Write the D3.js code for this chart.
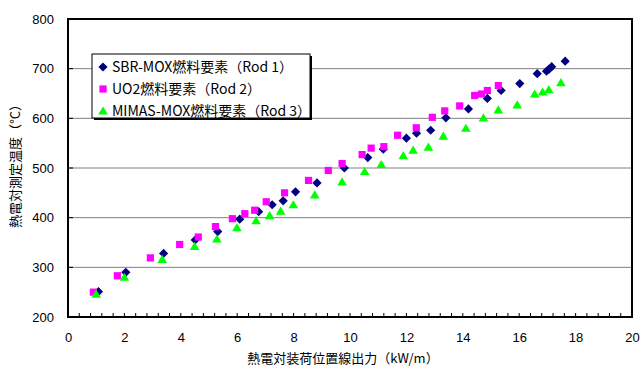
<!DOCTYPE html>
<html>
<head>
<meta charset="utf-8">
<script src="https://cdn.jsdelivr.net/npm/d3@7"></script>
<style>
  body { margin: 0; background: #fff; }
  svg { display: block; }
</style>
</head>
<body>
<div id="chart"></div>
<script>
// series names
var seriesNames = ["SBR-MOX燃料要素（Rod 1）", "UO2燃料要素（Rod 2）", "MIMAS-MOX燃料要素（Rod 3）"];

// Rod 1 : [linear power kW/m, temperature C]
var rod1 = [[1.08,251],[2.05,290],[3.39,328],[4.51,355],[5.31,372],[6.09,397],[6.76,412],[7.24,426],
  [7.63,434],[8.07,452],[8.83,470],[9.8,500],[10.63,521],[11.18,538],[12.0,560],[12.36,570],
  [12.86,576],[13.4,601],[14.2,619],[14.87,640],[15.36,656],[16.02,670],[16.64,690],[16.97,695],
  [17.06,699],[17.15,704],[17.63,715]];

// Rod 2
var rod2 = [[0.9,250],[1.75,283],[2.92,319],[3.96,346],[4.62,361],[5.23,382],[5.83,398],[6.27,408],
  [6.62,415],[7.03,432],[7.68,450],[8.53,475],[9.23,495],[9.72,509],[10.43,527],[10.75,540],
  [11.2,543],[11.69,566],[12.35,581],[12.92,602],[13.36,615],[13.89,625],[14.42,646],[14.66,649],
  [14.87,656],[15.26,666]];

// Rod 3
var rod3 = [[1.0,246],[2.0,280],[3.34,316],[4.49,342],[5.28,357],[5.99,380],[6.67,394],[7.15,404],
  [7.54,413],[7.99,426],[8.75,446],[9.72,472],[10.52,493],[11.11,507],[11.89,525],[12.24,536],
  [12.78,542],[13.31,564],[14.11,580],[14.73,601],[15.26,617],[15.93,627],[16.55,649],[16.83,653],
  [17.05,658],[17.48,672]];

var xTicks = [0, 2, 4, 6, 8, 10, 12, 14, 16, 18, 20];
var yTicks = [200, 300, 400, 500, 600, 700, 800];

var W = 640, H = 369;
var margin = { top: 19, right: 8, bottom: 52, left: 68 },
    width = W - margin.left - margin.right,
    height = H - margin.top - margin.bottom;

var svg = d3.select("#chart")
    .append("svg")
    .attr("width", W)
    .attr("height", H);

var g = svg.append("g")
    .attr("transform", "translate(" + margin.left + "," + margin.top + ")");

var x = d3.scaleLinear().domain([0, 20]).range([0, width]);
var y = d3.scaleLinear().domain([200, 800]).range([height, 0]);

// gridlines
g.append("g")
    .selectAll("line")
    .data(yTicks.slice(1, -1))
    .enter()
    .append("line")
    .attr("x1", 0)
    .attr("x2", width)
    .attr("y1", d => y(d))
    .attr("y2", d => y(d))
    .attr("stroke", "#808080")
    .attr("stroke-width", 1);

// minor x ticks every 0.4 (inside)
var minor = d3.range(0, 50).map(i => i * 0.4);
g.append("g")
    .selectAll("line")
    .data(minor)
    .enter()
    .append("line")
    .attr("x1", d => x(d))
    .attr("x2", d => x(d))
    .attr("y1", height)
    .attr("y2", height - 4)
    .attr("stroke", "#000");

// y ticks (inside)
g.append("g")
    .selectAll("line")
    .data(yTicks)
    .enter()
    .append("line")
    .attr("x1", 0)
    .attr("x2", 5)
    .attr("y1", d => y(d))
    .attr("y2", d => y(d))
    .attr("stroke", "#000");

// frame
g.append("rect")
    .attr("x", 0)
    .attr("y", 0)
    .attr("width", width)
    .attr("height", height)
    .attr("fill", "none")
    .attr("stroke", "#000")
    .attr("stroke-width", 2);

// axis labels via d3 axes (lines hidden)
var xAxis = g.append("g")
    .attr("transform", "translate(0," + height + ")")
    .call(d3.axisBottom(x).tickValues(xTicks).tickSize(0).tickPadding(16));
var yAxis = g.append("g")
    .call(d3.axisLeft(y).tickValues(yTicks).tickSize(0).tickPadding(14));
[xAxis, yAxis].forEach(a => {
    a.select(".domain").remove();
    a.selectAll("text")
        .attr("font-family", "'Liberation Sans', Arial, sans-serif")
        .attr("font-size", 13)
        .attr("fill", "#000");
});

// marker shapes
var markers = [
    "M0,-4.6L4.6,0L0,4.6L-4.6,0Z",   // diamond
    "M-3.6,-3.6H3.6V3.6H-3.6Z",      // square
    "M0,-4.6L4.8,3.6H-4.8Z"          // triangle
];
var colors = ["#000080", "#ff00ff", "#00ff00"];
var data = [rod1, rod2, rod3];

data.forEach((s, i) => {
    g.append("g")
        .selectAll("path")
        .data(s)
        .enter()
        .append("path")
        .attr("d", markers[i])
        .attr("transform", d => "translate(" + x(d[0]) + "," + y(d[1]) + ")")
        .attr("fill", colors[i]);
});

// legend
var lg = svg.append("g").attr("transform", "translate(92,54)");
lg.append("rect")
    .attr("x", 2).attr("y", 2)
    .attr("width", 218).attr("height", 64)
    .attr("fill", "#000");
lg.append("rect")
    .attr("width", 218).attr("height", 64)
    .attr("fill", "#fff")
    .attr("stroke", "#000")
    .attr("stroke-width", 1);
seriesNames.forEach((n, i) => {
    var yy = 13 + i * 22;
    lg.append("path")
        .attr("d", markers[i])
        .attr("transform", "translate(11," + yy + ")")
        .attr("fill", colors[i]);
    lg.append("text")
        .attr("x", 20)
        .attr("y", yy + 5)
        .attr("font-family", "'Noto Sans CJK JP', sans-serif")
        .attr("font-size", 14)
        .text(n);
});

// axis titles
svg.append("text")
    .attr("x", margin.left + width / 2 - 7)
    .attr("y", 363)
    .attr("text-anchor", "middle")
    .attr("font-family", "'Noto Sans CJK JP', sans-serif")
    .attr("font-size", 13)
    .text("熱電対装荷位置線出力（kW/m）");

svg.append("text")
    .attr("transform", "translate(20," + 163 + ") rotate(-90)")
    .attr("text-anchor", "middle")
    .attr("font-family", "'Noto Sans CJK JP', sans-serif")
    .attr("font-size", 13)
    .text("熱電対測定温度（°C）");
</script>
</body>
</html>
